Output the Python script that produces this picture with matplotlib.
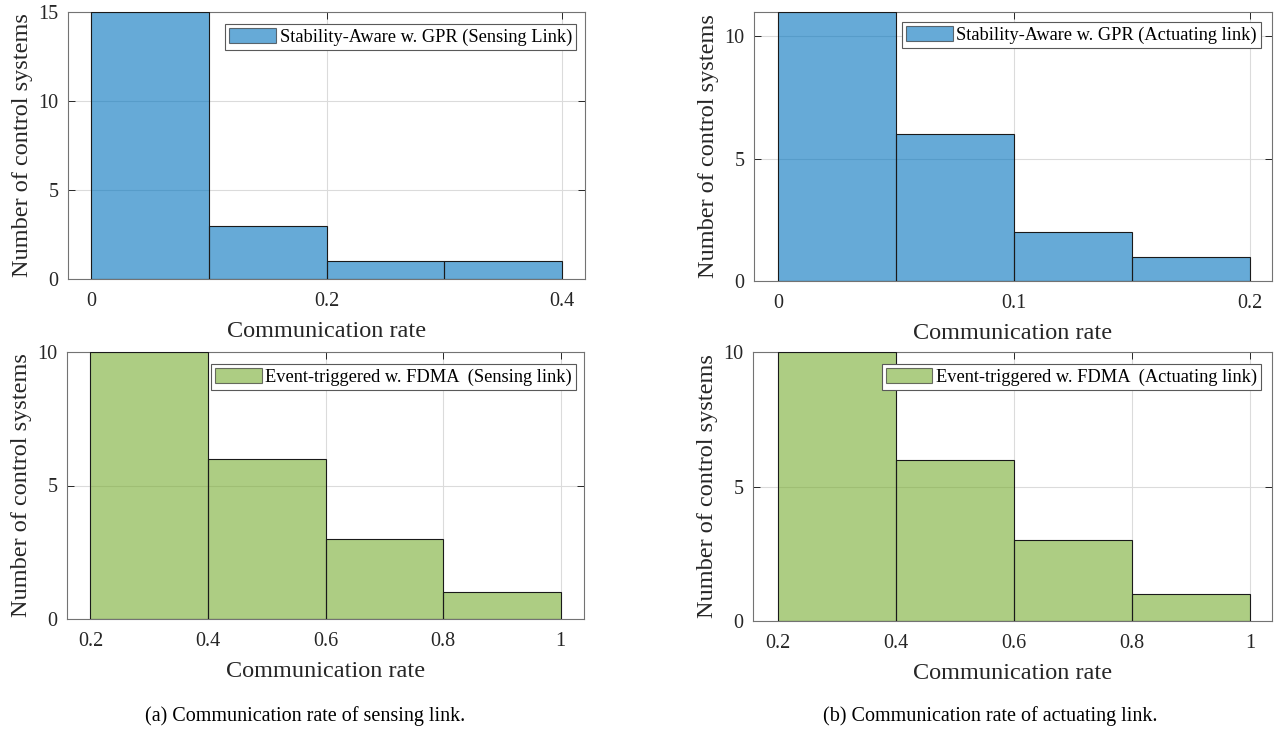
import numpy as np
import matplotlib
matplotlib.use("Agg")
import matplotlib.pyplot as plt

plt.rcParams['font.family'] = ['Liberation Serif', 'DejaVu Serif']
plt.rcParams['mathtext.fontset'] = 'stix'

# Histogram bin edges and counts
gpr_sense_edges = [0.0, 0.1, 0.2, 0.3, 0.4]
gpr_sense_counts = [15, 3, 1, 1]
gpr_act_edges = [0.0, 0.05, 0.1, 0.15, 0.2]
gpr_act_counts = [11, 6, 2, 1]
fdma_sense_edges = [0.2, 0.4, 0.6, 0.8, 1.0]
fdma_sense_counts = [10, 6, 3, 1]
fdma_act_edges = [0.2, 0.4, 0.6, 0.8, 1.0]
fdma_act_counts = [10, 6, 3, 1]

labels = [
    "Stability-Aware w. GPR (Sensing Link)",
    "Stability-Aware w. GPR (Actuating link)",
    "Event-triggered w. FDMA  (Sensing link)",
    "Event-triggered w. FDMA  (Actuating link)",
]
xtick_sets = [
    [0, 0.2, 0.4],
    [0, 0.1, 0.2],
    [0.2, 0.4, 0.6, 0.8, 1],
    [0.2, 0.4, 0.6, 0.8, 1],
]
ytick_sets = [[0, 5, 10, 15], [0, 5, 10], [0, 5, 10], [0, 5, 10]]
captions = ["(a) Communication rate of sensing link.",
            "(b) Communication rate of actuating link."]

BLUE = (0.0, 0.447, 0.741)
GREEN = (0.466, 0.674, 0.188)

W, H = 1276, 731
fig = plt.figure(figsize=(W / 100, H / 100), dpi=100)


def px_axes(x0, y0, x1, y1):
    return fig.add_axes([x0 / W, 1 - y1 / H, (x1 - x0) / W, (y1 - y0) / H])


panels = [
    dict(box=(68, 12, 585, 279), edges=gpr_sense_edges, counts=gpr_sense_counts,
         color=BLUE, xlim=(-0.0194, 0.4194), ylim=(0, 15), leg=(0.9826, 0.955)),
    dict(box=(754, 12, 1272, 281), edges=gpr_act_edges, counts=gpr_act_counts,
         color=BLUE, xlim=(-0.0101, 0.2093), ylim=(0, 11), leg=(0.9788, 0.963)),
    dict(box=(67, 352, 584, 619), edges=fdma_sense_edges, counts=fdma_sense_counts,
         color=GREEN, xlim=(0.16, 1.04), ylim=(0, 10), leg=(0.9845, 0.955)),
    dict(box=(753, 352, 1272, 621), edges=fdma_act_edges, counts=fdma_act_counts,
         color=GREEN, xlim=(0.158, 1.037), ylim=(0, 10), leg=(0.979, 0.955)),
]

for i, p in enumerate(panels):
    ax = px_axes(*p['box'])
    edges = np.asarray(p['edges'])
    ax.bar(edges[:-1], p['counts'], width=np.diff(edges), align='edge',
           color=p['color'], alpha=0.6, edgecolor='none', label=labels[i], zorder=2)
    ax.bar(edges[:-1], p['counts'], width=np.diff(edges), align='edge',
           facecolor='none', edgecolor=(0.1, 0.1, 0.1), linewidth=0.8, zorder=3)
    ax.set_xlim(*p['xlim'])
    ax.set_ylim(*p['ylim'])
    xt = xtick_sets[i]
    ax.set_xticks(xt)
    ax.set_xticklabels([f"{v:g}" for v in xt])
    ax.set_yticks(ytick_sets[i])
    ax.set_yticklabels([str(v) for v in ytick_sets[i]])
    ax.grid(True, color=(0.86, 0.86, 0.86), linewidth=0.8, zorder=0)
    ax.set_axisbelow(True)
    ax.tick_params(direction='in', top=True, right=True, length=5, width=0.7,
                   colors=(0.15, 0.15, 0.15), labelsize=14.5)
    ax.tick_params(axis='x', pad=9.5)
    ax.tick_params(axis='y', pad=7)
    for s in ax.spines.values():
        s.set_color((0.45, 0.45, 0.45))
        s.set_linewidth(0.8)
    ax.set_xlabel("Communication rate", fontsize=17.5, labelpad=7, color=(0.15, 0.15, 0.15))
    ax.set_ylabel("Number of control systems", fontsize=17.5, labelpad=4,
                  color=(0.15, 0.15, 0.15))
    leg = ax.legend(loc='upper right', bbox_to_anchor=p['leg'], borderaxespad=0,
                    fontsize=13.2, frameon=True, fancybox=False, framealpha=1,
                    handlelength=2.55, handleheight=0.9, handletextpad=0.2,
                    borderpad=0.22)
    leg.get_frame().set_edgecolor((0.35, 0.35, 0.35))
    leg.get_frame().set_linewidth(0.8)
    for h in leg.legend_handles:
        h.set_edgecolor((0.1, 0.1, 0.1))
        h.set_linewidth(0.8)

fig.text(305 / W, 1 - 716 / H, captions[0], ha='center', va='center', fontsize=14.5)
fig.text(990 / W, 1 - 716 / H, captions[1], ha='center', va='center', fontsize=14.5)

fig.savefig("out.png", dpi=100)
